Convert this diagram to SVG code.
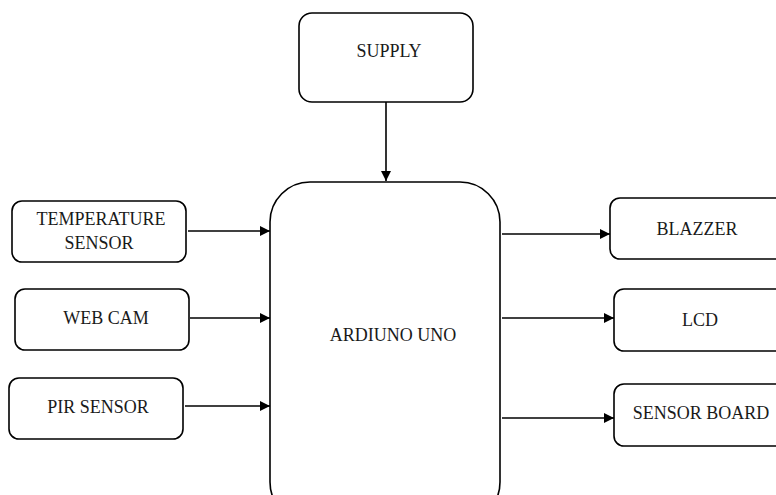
<svg xmlns="http://www.w3.org/2000/svg" width="776" height="495" viewBox="0 0 776 495">
<style>
.box{fill:#fff;stroke:#000;stroke-width:1.6}
.lbl{font-family:"Liberation Serif","DejaVu Serif",serif;font-size:18px;fill:#1a1a1a;text-anchor:middle}
.con{stroke:#000;stroke-width:1.6;fill:none}
</style>
<defs>
<marker id="ah" markerWidth="10" markerHeight="10" refX="10" refY="5" orient="auto" markerUnits="userSpaceOnUse">
<path d="M0,0 L10,5 L0,10 Z" fill="#000"/>
</marker>
</defs>
<rect width="776" height="495" fill="#fff"/>
<g id="supply"><rect class="box" x="299" y="13" width="174" height="89" rx="13"/><text class="lbl" x="389" y="57">SUPPLY</text></g>
<g id="arduino"><rect class="box" x="270" y="182" width="230" height="340" rx="40"/><text class="lbl" x="393" y="341">ARDIUNO UNO</text></g>
<g id="temp"><rect class="box" x="12" y="201" width="174" height="61" rx="10"/><text class="lbl" x="101" y="225">TEMPERATURE</text><text class="lbl" x="99" y="249">SENSOR</text></g>
<g id="webcam"><rect class="box" x="15" y="289" width="174" height="61" rx="10"/><text class="lbl" x="106" y="324">WEB CAM</text></g>
<g id="pir"><rect class="box" x="9" y="378" width="174" height="61" rx="10"/><text class="lbl" x="98" y="413">PIR SENSOR</text></g>
<g id="blazzer"><rect class="box" x="610" y="198" width="190" height="61" rx="10"/><text class="lbl" x="697" y="235">BLAZZER</text></g>
<g id="lcd"><rect class="box" x="614" y="289" width="190" height="62" rx="10"/><text class="lbl" x="700" y="326">LCD</text></g>
<g id="sensorboard"><rect class="box" x="614" y="384" width="190" height="62" rx="10"/><text class="lbl" x="701" y="419">SENSOR BOARD</text></g>
<g id="connectors">
<line class="con" x1="386" y1="102" x2="386" y2="181" marker-end="url(#ah)"/>
<line class="con" x1="188" y1="231" x2="270" y2="231" marker-end="url(#ah)"/>
<line class="con" x1="190" y1="318" x2="270" y2="318" marker-end="url(#ah)"/>
<line class="con" x1="185" y1="406" x2="270" y2="406" marker-end="url(#ah)"/>
<line class="con" x1="502" y1="234" x2="610" y2="234" marker-end="url(#ah)"/>
<line class="con" x1="502" y1="318" x2="614" y2="318" marker-end="url(#ah)"/>
<line class="con" x1="502" y1="418" x2="614" y2="418" marker-end="url(#ah)"/>
</g>
</svg>
